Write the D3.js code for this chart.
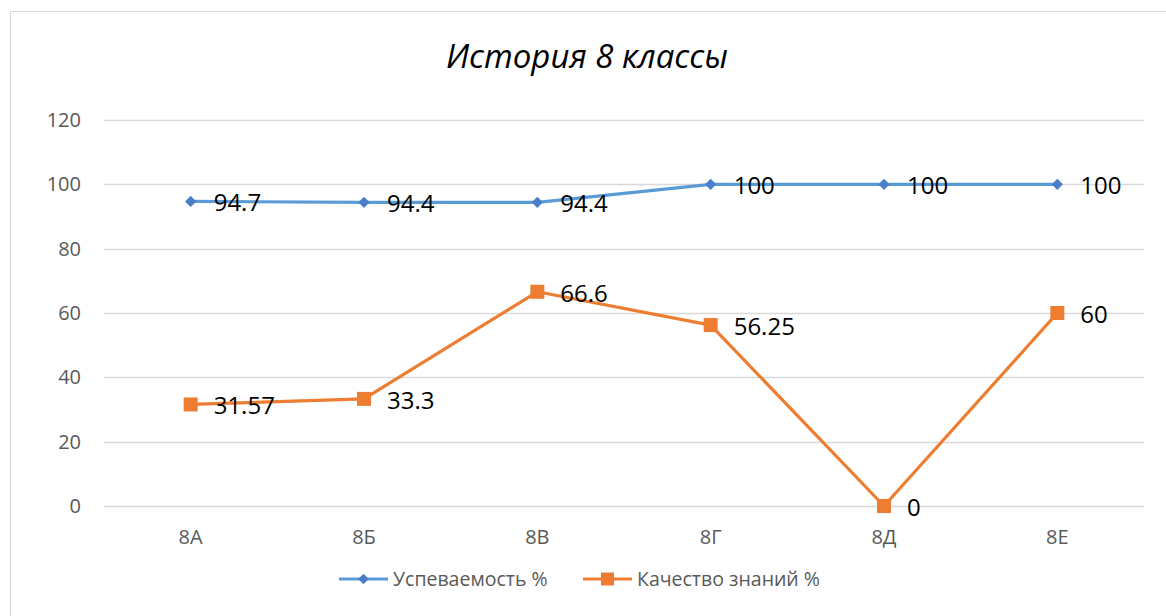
<!DOCTYPE html>
<html>
<head>
<meta charset="utf-8">
<script src="https://cdnjs.cloudflare.com/ajax/libs/d3/7.8.5/d3.min.js"></script>
<style>
  body { margin: 0; background: #fff; }
  text { font-family: "Open Sans", "Noto Sans", sans-serif; }
</style>
</head>
<body>
<svg id="chart" width="1166" height="616"></svg>
<script>
// data
var classes = ['8А', '8Б', '8В', '8Г', '8Д', '8Е'];
var progress = [94.7, 94.4, 94.4, 100, 100, 100];
var quality = [31.57, 33.3, 66.6, 56.25, 0, 60];
var progressLabels = ['94.7', '94.4', '94.4', '100', '100', '100'];
var qualityLabels = ['31.57', '33.3', '66.6', '56.25', '0', '60'];
var yTicks = [0, 20, 40, 60, 80, 100, 120];
var seriesNames = ['Успеваемость %', 'Качество знаний %'];

var svg = d3.select('#chart');

// chart area border (only left/top visible in the shot)
svg.append('rect')
    .attr('x', 10.5).attr('y', 11.5)
    .attr('width', 1200).attr('height', 700)
    .attr('fill', 'none').attr('stroke', '#d9d9d9').attr('stroke-width', 1);

var x = d3.scaleBand().domain(classes).range([104, 1144]);
var y = d3.scaleLinear().domain([0, 120]).range([506, 120]);

// gridlines
svg.append('g').selectAll('line').data(yTicks).enter().append('line')
    .attr('x1', 104).attr('x2', 1144)
    .attr('y1', function(d) { return Math.round(y(d)) + 0.5; })
    .attr('y2', function(d) { return Math.round(y(d)) + 0.5; })
    .attr('stroke', '#d9d9d9').attr('stroke-width', 1.5);

// y axis labels
var yAxis = d3.axisLeft(y).tickValues(yTicks).tickSize(0).tickPadding(0);
var yg = svg.append('g').attr('transform', 'translate(81,0)').call(yAxis);
yg.select('.domain').remove();
yg.selectAll('text').attr('fill', '#595959').style('font-size', '20px')
    .style('font-family', '"Open Sans", sans-serif');

// x axis labels
var xAxis = d3.axisBottom(x).tickSize(0).tickPadding(0);
var xg = svg.append('g').attr('transform', 'translate(0,530)').call(xAxis);
xg.select('.domain').remove();
xg.selectAll('text').attr('fill', '#595959').style('font-size', '20px')
    .style('font-family', '"Open Sans", sans-serif');

function cx(d, i) { return x(classes[i]) + x.bandwidth() / 2; }

var line = d3.line()
    .x(function(d, i) { return cx(d, i); })
    .y(function(d) { return y(d); });

// series 1
svg.append('path').datum(progress)
    .attr('d', line).attr('fill', 'none')
    .attr('stroke', '#5b9bd5').attr('stroke-width', 3.2)
    .attr('stroke-linejoin', 'round');
svg.append('g').selectAll('path').data(progress).enter().append('path')
    .attr('d', d3.symbol().type(d3.symbolDiamond2).size(80))
    .attr('transform', function(d, i) { return 'translate(' + cx(d, i) + ',' + y(d) + ')'; })
    .attr('fill', '#4a7ec8');

// series 2
svg.append('path').datum(quality)
    .attr('d', line).attr('fill', 'none')
    .attr('stroke', '#ed7d31').attr('stroke-width', 3.2)
    .attr('stroke-linejoin', 'round');
svg.append('g').selectAll('rect').data(quality).enter().append('rect')
    .attr('x', function(d, i) { return cx(d, i) - 7; })
    .attr('y', function(d) { return y(d) - 7; })
    .attr('width', 14).attr('height', 14)
    .attr('fill', '#ed7d31');

// data labels
function labels(vals, txt) {
    svg.append('g').selectAll('text').data(vals).enter().append('text')
        .attr('x', function(d, i) { return cx(d, i) + 23; })
        .attr('y', function(d) { return y(d) + 10; })
        .attr('fill', '#000').style('font-size', '24px')
        .text(function(d, i) { return txt[i]; });
}
labels(progress, progressLabels);
labels(quality, qualityLabels);

// title
svg.append('text').attr('x', 587).attr('y', 68)
    .attr('text-anchor', 'middle')
    .style('font-size', '33px').style('font-style', 'italic')
    .attr('fill', '#000')
    .text('История 8 классы');

// legend
var legend = [
    {name: seriesNames[0], color: '#5b9bd5', mark: '#4a7ec8', x0: 339, shape: 'diamond'},
    {name: seriesNames[1], color: '#ed7d31', mark: '#ed7d31', x0: 583, shape: 'square'}
];
var lg = svg.append('g').selectAll('g').data(legend).enter().append('g')
    .attr('transform', function(d) { return 'translate(' + d.x0 + ',579)'; });
lg.append('line').attr('x1', 0).attr('x2', 49).attr('y1', 0).attr('y2', 0)
    .attr('stroke', function(d) { return d.color; }).attr('stroke-width', 3);
lg.each(function(d) {
    var g = d3.select(this);
    if (d.shape === 'diamond') {
        g.append('path').attr('d', d3.symbol().type(d3.symbolDiamond2).size(70))
            .attr('transform', 'translate(24.5,0)').attr('fill', d.mark);
    } else {
        g.append('rect').attr('x', 18).attr('y', -6.5).attr('width', 13).attr('height', 13)
            .attr('fill', d.mark);
    }
});
lg.append('text').attr('x', 54).attr('y', 7)
    .attr('fill', '#595959').style('font-size', '19.5px')
    .text(function(d) { return d.name; });
</script>
</body>
</html>
